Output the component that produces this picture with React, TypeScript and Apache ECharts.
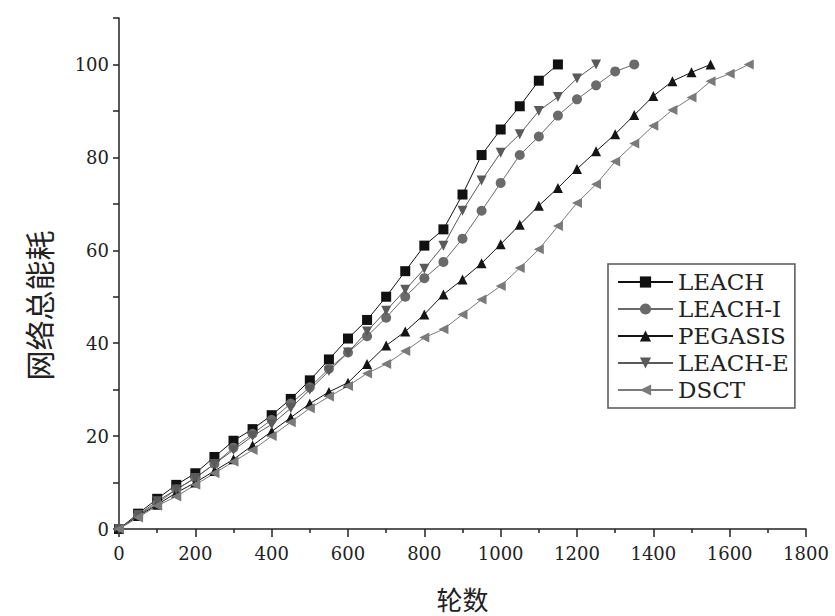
import React, { useEffect, useRef } from "react";
import * as echarts from "echarts";

const ROUNDS = [0, 50, 100, 150, 200, 250, 300, 350, 400, 450, 500, 550, 600, 650, 700, 750, 800, 850, 900, 950, 1000, 1050, 1100, 1150, 1200, 1250, 1300, 1350, 1400, 1450, 1500, 1550, 1600, 1650];

const LEACH = [0, 3.3, 6.5, 9.5, 12, 15.5, 19, 21.5, 24.5, 28, 32, 36.5, 41, 45, 50, 55.5, 61, 64.5, 72, 80.5, 86, 91, 96.5, 100];
const LEACH_I = [0, 3, 5.5, 8.5, 11, 14, 17.5, 20.5, 23.5, 27, 30.5, 34.5, 38, 41.5, 45.5, 50, 54, 57.5, 62.5, 68.5, 74.5, 80.5, 84.5, 89, 92.5, 95.5, 98.5, 100];
const PEGASIS = [0, 2.8, 5.2, 7.8, 10, 12.5, 15, 18, 21, 24, 27, 29.5, 31.5, 35.5, 39.5, 42.5, 46.2, 50.5, 53.7, 57.2, 61.3, 65.5, 69.6, 73.4, 77.5, 81.3, 85, 89.1, 93.2, 96.4, 98.3, 100];
const LEACH_E = [0, 3, 6, 8.5, 11, 14, 17, 20, 22.5, 26, 30, 34, 38, 42.5, 47, 51.5, 56, 61, 68.5, 75, 81, 85, 90, 93, 97, 100];
const DSCT = [0, 2.5, 5, 7, 9.5, 12, 14.5, 17, 20, 23, 26, 28.5, 30.8, 33.5, 35.5, 38.3, 41.2, 43, 46.2, 49.4, 52.3, 56.2, 60.2, 65.2, 70.2, 74.2, 79.1, 83, 86.8, 90.2, 92.9, 96.4, 98, 100];

const SERIES_NAMES = ["LEACH", "LEACH-I", "PEGASIS", "LEACH-E", "DSCT"];
const X_LABEL = "轮数";
const Y_LABEL = "网络总能耗";

const pairs = (vals: number[]) => vals.map((v, i) => [ROUNDS[i], v]);

export default function App() {
  const ref = useRef<HTMLDivElement>(null);
  useEffect(() => {
    if (!ref.current) return;
    const chart = echarts.init(ref.current, undefined, { renderer: "svg" });
    const serif = "'DejaVu Serif', 'Liberation Serif', serif";
    const cjk = "'Noto Sans CJK SC', sans-serif";
    const mk = (name: string, data: number[], symbol: string, color: string, rotate = 0, size = 10) => ({
      name,
      type: "line",
      data: pairs(data),
      symbol,
      symbolSize: size,
      symbolRotate: rotate,
      showAllSymbol: true,
      lineStyle: { color, width: 1 },
      itemStyle: { color },
      emphasis: { disabled: true },
    });
    chart.setOption({
      animation: false,
      backgroundColor: "#fff",
      grid: { left: 119, right: 29, top: 18, bottom: 84, containLabel: false },
      legend: {
        orient: "vertical",
        left: 608,
        top: 264,
        data: SERIES_NAMES,
        itemWidth: 55,
        itemHeight: 14,
        itemGap: 3,
        padding: [6, 6, 6, 9],
        borderColor: "#555",
        borderWidth: 1.5,
        textStyle: { fontFamily: serif, fontSize: 23, lineHeight: 24, color: "#222", padding: [0, 0, 0, 0] },
      },
      xAxis: {
        type: "value",
        min: 0,
        max: 1800,
        interval: 200,
        name: X_LABEL,
        nameLocation: "middle",
        nameGap: 56,
        nameTextStyle: { fontFamily: cjk, fontSize: 26, color: "#222" },
        axisLine: { show: true, lineStyle: { color: "#222", width: 1.5 } },
        axisTick: { show: true, length: 8, lineStyle: { color: "#222", width: 1.5 } },
        minorTick: { show: true, splitNumber: 2, length: 4, lineStyle: { color: "#222", width: 1.5 } },
        axisLabel: { fontFamily: serif, fontSize: 18, color: "#222", margin: 15, formatter: (v: number) => String(v) },
        splitLine: { show: false },
      },
      yAxis: {
        type: "value",
        min: 0,
        max: 110,
        interval: 10,
        name: Y_LABEL,
        nameLocation: "middle",
        nameRotate: 90,
        nameGap: 66,
        nameTextStyle: { fontFamily: cjk, fontSize: 30, color: "#222", padding: [0, 64, 0, 0] },
        axisLine: { show: true, lineStyle: { color: "#222", width: 1.5 } },
        axisTick: { show: true, length: 6, lineStyle: { color: "#222", width: 1.5 } },
        axisLabel: {
          fontFamily: serif,
          fontSize: 18,
          color: "#222",
          margin: 10,
          formatter: (v: number) => (v % 20 === 0 && v <= 100 ? String(v) : ""),
        },
        splitLine: { show: false },
      },
      series: [
        mk(SERIES_NAMES[0], LEACH, "rect", "#111"),
        mk(SERIES_NAMES[1], LEACH_I, "circle", "#6a6a6a"),
        mk(SERIES_NAMES[2], PEGASIS, "triangle", "#151515"),
        mk(SERIES_NAMES[3], LEACH_E, "triangle", "#5a5a5a", 180),
        mk(SERIES_NAMES[4], DSCT, "triangle", "#7a7a7a", 90),
      ],
    });
    return () => chart.dispose();
  }, []);
  return <div ref={ref} style={{ position: "fixed", left: 0, top: 0, width: 835, height: 616 }} />;
}
